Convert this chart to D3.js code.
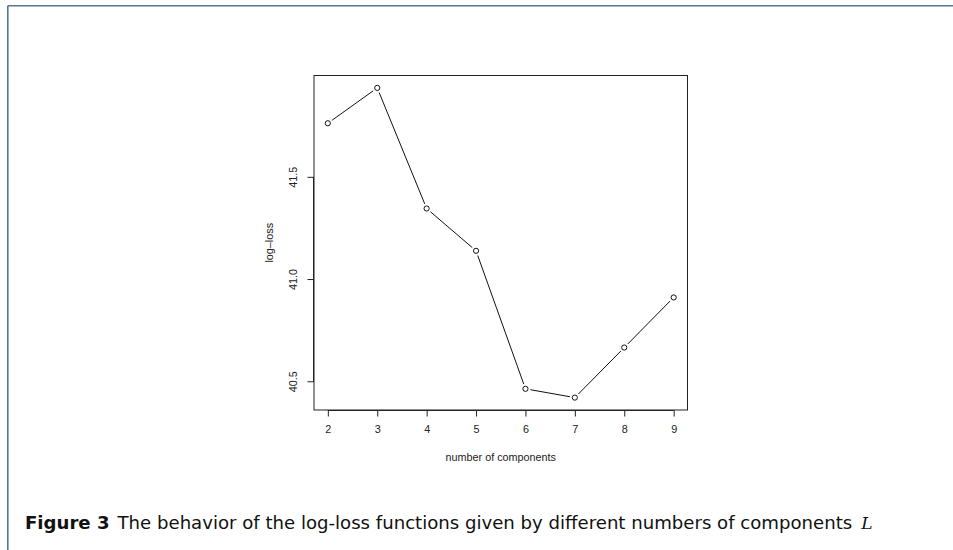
<!DOCTYPE html>
<html>
<head>
<meta charset="utf-8">
<script src="https://cdn.jsdelivr.net/npm/d3@7"></script>
<style>
  html, body { margin: 0; padding: 0; background: #fff; }
</style>
</head>
<body>
<div id="idMyCanvas"></div>
<script>
// Data
// -------------------
let components = [2, 3, 4, 5, 6, 7, 8, 9];
let log_loss = [41.762, 41.935, 41.345, 41.138, 40.463, 40.42, 40.665, 40.91];
let x_ticks = [2, 3, 4, 5, 6, 7, 8, 9];
let y_ticks = [40.5, 41.0, 41.5];
let x_label = "number of components";
let y_label = "log\u2013loss";
// -------------------

let canvas_xn = 953;
let canvas_yn = 550;

let svg_obj = d3.select("#idMyCanvas")
                .append("svg")
                  .attr("width", canvas_xn)
                  .attr("height", canvas_yn)
                  .attr("xmlns", "http://www.w3.org/2000/svg")
                  .style("display", "block");

let font_r = "'Liberation Sans', Arial, Helvetica, sans-serif";

// Page border (left and top rules)
// -------------------
let border_col = "#557799";
svg_obj.append("line")
   .attr("x1", 7.8).attr("y1", 5.8).attr("x2", canvas_xn).attr("y2", 5.8)
   .attr("stroke", border_col).attr("stroke-width", 1.6);
svg_obj.append("line")
   .attr("x1", 7.8).attr("y1", 5.8).attr("x2", 7.8).attr("y2", canvas_yn)
   .attr("stroke", border_col).attr("stroke-width", 1.6);
// -------------------

// Plot region, R style 4% padding
// -------------------
let plot_x0 = 314, plot_x1 = 687.5;
let plot_y0 = 75.5, plot_y1 = 410;

let x_ext = d3.extent(components);
let y_ext = d3.extent(log_loss);
let x_pad = (x_ext[1] - x_ext[0]) * 0.04;
let y_pad = (y_ext[1] - y_ext[0]) * 0.04;

let x_scale = d3.scaleLinear()
   .domain([x_ext[0] - x_pad, x_ext[1] + x_pad])
   .range([plot_x0, plot_x1]);
let y_scale = d3.scaleLinear()
   .domain([y_ext[0] - y_pad, y_ext[1] + y_pad])
   .range([plot_y1, plot_y0]);

// Box
svg_obj.append("rect")
   .attr("x", plot_x0).attr("y", plot_y0)
   .attr("width", plot_x1 - plot_x0).attr("height", plot_y1 - plot_y0)
   .attr("fill", "none").attr("stroke", "#222").attr("stroke-width", 1);
// -------------------

// Axes
// -------------------
let x_axis = d3.axisBottom(x_scale)
   .tickValues(x_ticks)
   .tickSize(6.5)
   .tickPadding(8.5)
   .tickFormat(d3.format("d"));
let x_axis_g = svg_obj.append("g")
   .attr("transform", "translate(0," + plot_y1 + ")")
   .call(x_axis);
x_axis_g.select(".domain")
   .attr("d", "M" + x_scale(x_ticks[0]) + ",0.5H" + x_scale(x_ticks[x_ticks.length - 1]));
x_axis_g.selectAll("text")
   .attr("font-family", font_r).attr("font-size", 10.8).attr("fill", "#222");
x_axis_g.selectAll("line, path").attr("stroke", "#222");

let y_axis = d3.axisLeft(y_scale)
   .tickValues(y_ticks)
   .tickSize(6.5)
   .tickFormat(d3.format(".1f"));
let y_axis_g = svg_obj.append("g")
   .attr("transform", "translate(" + plot_x0 + ",0)")
   .call(y_axis);
y_axis_g.select(".domain")
   .attr("d", "M-0.5," + y_scale(y_ticks[0]) + "V" + y_scale(y_ticks[y_ticks.length - 1]));
y_axis_g.selectAll("line, path").attr("stroke", "#222");
y_axis_g.selectAll(".tick text")
   .attr("x", 0).attr("dy", null)
   .attr("transform", "translate(-17,0) rotate(-90)")
   .attr("text-anchor", "middle")
   .attr("dominant-baseline", "auto")
   .attr("font-family", font_r).attr("font-size", 10.8).attr("fill", "#222");
// -------------------

// Axis titles
// -------------------
svg_obj.append("text")
   .attr("x", (plot_x0 + plot_x1) / 2)
   .attr("y", 461)
   .attr("text-anchor", "middle")
   .attr("font-family", font_r).attr("font-size", 10.8).attr("fill", "#222")
   .text(x_label);
svg_obj.append("text")
   .attr("transform", "translate(273," + (plot_y0 + plot_y1) / 2 + ") rotate(-90)")
   .attr("text-anchor", "middle")
   .attr("font-family", font_r).attr("font-size", 10.8).attr("fill", "#222")
   .text(y_label);
// -------------------

// Line with gaps (type = "b") and open circles
// -------------------
let pts = components.map((c, i) => [x_scale(c), y_scale(log_loss[i])]);
let gap = 5;
let seg_data = d3.pairs(pts).map(([a, b]) => {
   let dx = b[0] - a[0], dy = b[1] - a[1];
   let len = Math.sqrt(dx * dx + dy * dy);
   let ux = dx / len, uy = dy / len;
   return [a[0] + ux * gap, a[1] + uy * gap, b[0] - ux * gap, b[1] - uy * gap];
});
svg_obj.append("g").selectAll("line")
   .data(seg_data)
   .join("line")
   .attr("x1", d => d[0]).attr("y1", d => d[1])
   .attr("x2", d => d[2]).attr("y2", d => d[3])
   .attr("stroke", "#111").attr("stroke-width", 1);

svg_obj.append("g").selectAll("circle")
   .data(components)
   .join("circle")
   .attr("cx", d => x_scale(d))
   .attr("cy", (d, i) => y_scale(log_loss[i]))
   .attr("r", 2.6)
   .attr("fill", "none").attr("stroke", "#111").attr("stroke-width", 1);
// -------------------

// Caption
// -------------------
let cap_font = "'DejaVu Sans', 'Open Sans', sans-serif";
let caption = svg_obj.append("text")
   .attr("x", 25).attr("y", 529)
   .attr("font-family", cap_font).attr("font-size", 16).attr("fill", "#111");
caption.append("tspan").attr("font-weight", "bold").text("Figure 3");
caption.append("tspan").attr("dx", 8)
   .text("The behavior of the log-loss functions given by different numbers of components");
// fit caption to target width
let target_w = 854 - 25;
let cur_w = caption.node().getBBox().width;
caption.attr("font-size", 16 * target_w / cur_w);
let cap_end = caption.node().getBBox();
svg_obj.append("text")
   .attr("x", cap_end.x + cap_end.width + 9).attr("y", 529)
   .attr("font-family", "'DejaVu Serif', 'Liberation Serif', serif")
   .attr("font-style", "italic").attr("font-size", 17).attr("fill", "#111")
   .text("L");
// -------------------
</script>
</body>
</html>
